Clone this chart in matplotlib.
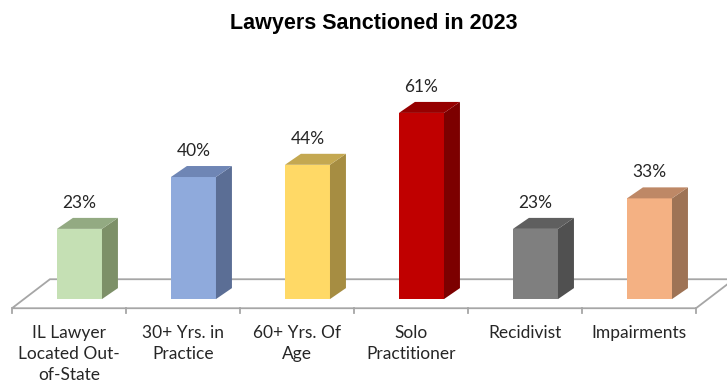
import numpy as np
import matplotlib.pyplot as plt
from matplotlib.patches import Polygon

# data
categories = ["IL Lawyer\nLocated Out-\nof-State", "30+ Yrs. in\nPractice", "60+ Yrs. Of\nAge",
              "Solo\nPractitioner", "Recidivist", "Impairments"]
values = [23, 40, 44, 61, 23, 33]
front_colors = ["#C5E0B4", "#8FAADC", "#FFD966", "#C00000", "#7F7F7F", "#F4B183"]
side_colors = ["#7D9068", "#5B6E95", "#A68D42", "#7C0000", "#505050", "#9E7355"]
top_colors = ["#93AA82", "#6F86B5", "#C4A851", "#960000", "#5F5F5F", "#BE8866"]

label_font = "Lato"

fig = plt.figure(figsize=(7.27, 3.83), dpi=100)
ax = fig.add_axes([0, 0, 1, 1])
ax.set_xlim(-0.605, 5.772)
ax.set_ylim(-27.5, 98)
ax.axis("off")

n = len(values)
x = np.arange(n)

# fake 3d geometry
bar_off = 0.092
bar_w = 0.395
dx, dy = 0.14, 3.6        # bar depth
fdx, fdy = 0.333, 9.5     # floor depth
floor_y = -3.0
grey = "#A6A6A6"

# floor
floor = Polygon([(-0.5, floor_y), (n - 0.5, floor_y), (n - 0.5 + fdx, floor_y + fdy),
                 (-0.5 + fdx, floor_y + fdy)], closed=True, facecolor="white",
                edgecolor=grey, lw=1.3, zorder=1)
ax.add_patch(floor)
for b in np.arange(n + 1) - 0.5:
    ax.plot([b, b], [floor_y, floor_y - 1.6], color=grey, lw=1.3, zorder=1)

# bars
xc = x + bar_off
ax.bar(xc, values, width=bar_w, color=front_colors, zorder=3)
for i in range(n):
    xl = xc[i] - bar_w / 2
    xr = xc[i] + bar_w / 2
    v = values[i]
    side = Polygon([(xr, 0), (xr, v), (xr + dx, v + dy), (xr + dx, dy)],
                   closed=True, facecolor=side_colors[i], edgecolor="none", zorder=3)
    top = Polygon([(xl, v), (xr, v), (xr + dx, v + dy), (xl + dx, v + dy)],
                  closed=True, facecolor=top_colors[i], edgecolor="none", zorder=3)
    ax.add_patch(side)
    ax.add_patch(top)
    ax.text(xc[i], v + 8.5, f"{v}%", ha="center", va="center", fontsize=12.5,
            family=label_font, color="#262626", zorder=4)

# category labels
for i in range(n):
    ax.text(x[i], -8.4, categories[i], ha="center", va="top", fontsize=12.5,
            family=label_font, color="#262626", linespacing=1.4)

# title
fig.text(0.514, 1 - 23 / 383, "Lawyers Sanctioned in 2023", ha="center", va="center",
         fontsize=15.5, fontweight="bold", family="Liberation Sans", color="black")

fig.savefig("out.png", dpi=100)
